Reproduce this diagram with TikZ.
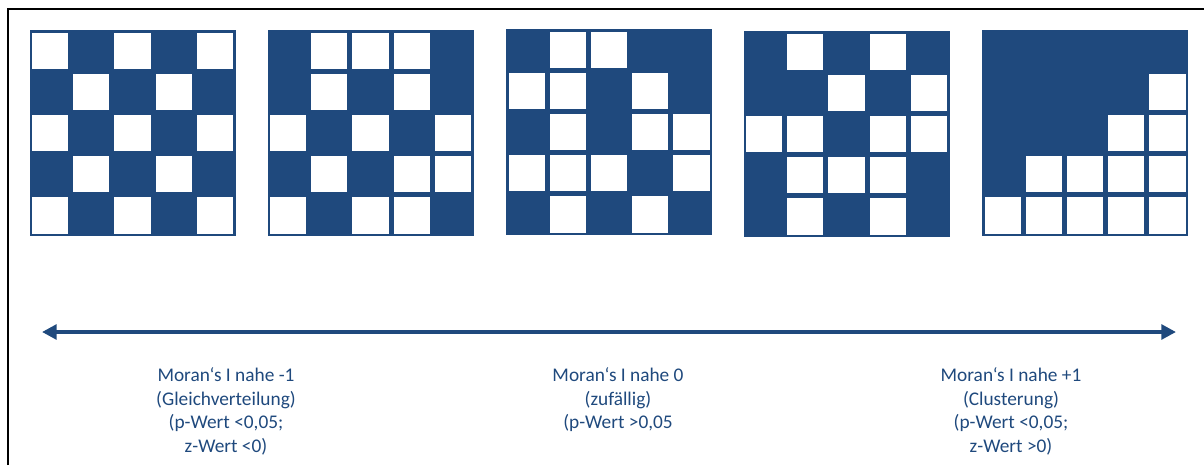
\documentclass[tikz,border=0pt]{standalone}
\usepackage{fontspec}
\setmainfont{Carlito}
\usetikzlibrary{arrows.meta}
\definecolor{mblue}{RGB}{31,73,125}
\newcommand\mygrid[3]{%
  \fill[mblue] (#1,#2) rectangle ++(206,206);
  \foreach \c/\r in {#3} \fill[white] ({#1+\c*41.2+2.5},{#2+\r*41.2+2.5}) rectangle ++(36.2,36.2);
}
\begin{document}
\begin{tikzpicture}[x=0.75pt,y=-0.75pt,
  lbl/.style={text=mblue,align=center,inner sep=0pt,font=\fontsize{14.5}{17.6}\selectfont},
  axis/.style={draw=mblue,line width=3pt,{Triangle[length=11pt,width=11pt]}-{Triangle[length=11pt,width=11pt]}}]
\useasboundingbox (0,0) rectangle (1204,465);
\draw[line width=1.5pt] (8,465) -- (8,9) -- (1204,9);
\mygrid{29.5}{30}{0/0,2/0,4/0,1/1,3/1,0/2,2/2,4/2,1/3,3/3,0/4,2/4,4/4}
\mygrid{267.5}{30}{1/0,2/0,3/0,1/1,3/1,0/2,2/2,4/2,1/3,3/3,4/3,0/4,2/4,3/4}
\mygrid{506}{29}{1/0,2/0,0/1,1/1,3/1,1/2,3/2,4/2,0/3,1/3,2/3,4/3,1/4,3/4}
\mygrid{743.5}{31}{1/0,3/0,2/1,4/1,0/2,1/2,3/2,4/2,1/3,2/3,3/3,1/4,3/4}
\mygrid{982}{30}{4/1,3/2,4/2,1/3,2/3,3/3,4/3,0/4,1/4,2/4,3/4,4/4}
\coordinate (aL) at (42,332);
\coordinate (aR) at (1176,332);
\draw[axis] (aL) -- (aR);
\node[lbl] (t1) at (226,411.5) {Moran‘s I nahe -1\\(Gleichverteilung)\\(p-Wert <0,05;\\z-Wert <0)};
\node[lbl] (t2) at (618,400) {Moran‘s I nahe 0\\(zufällig)\\(p-Wert >0,05};
\node[lbl] (t3) at (1011,411.5) {Moran‘s I nahe +1\\(Clusterung)\\(p-Wert <0,05;\\z-Wert >0)};
\end{tikzpicture}
\end{document}
